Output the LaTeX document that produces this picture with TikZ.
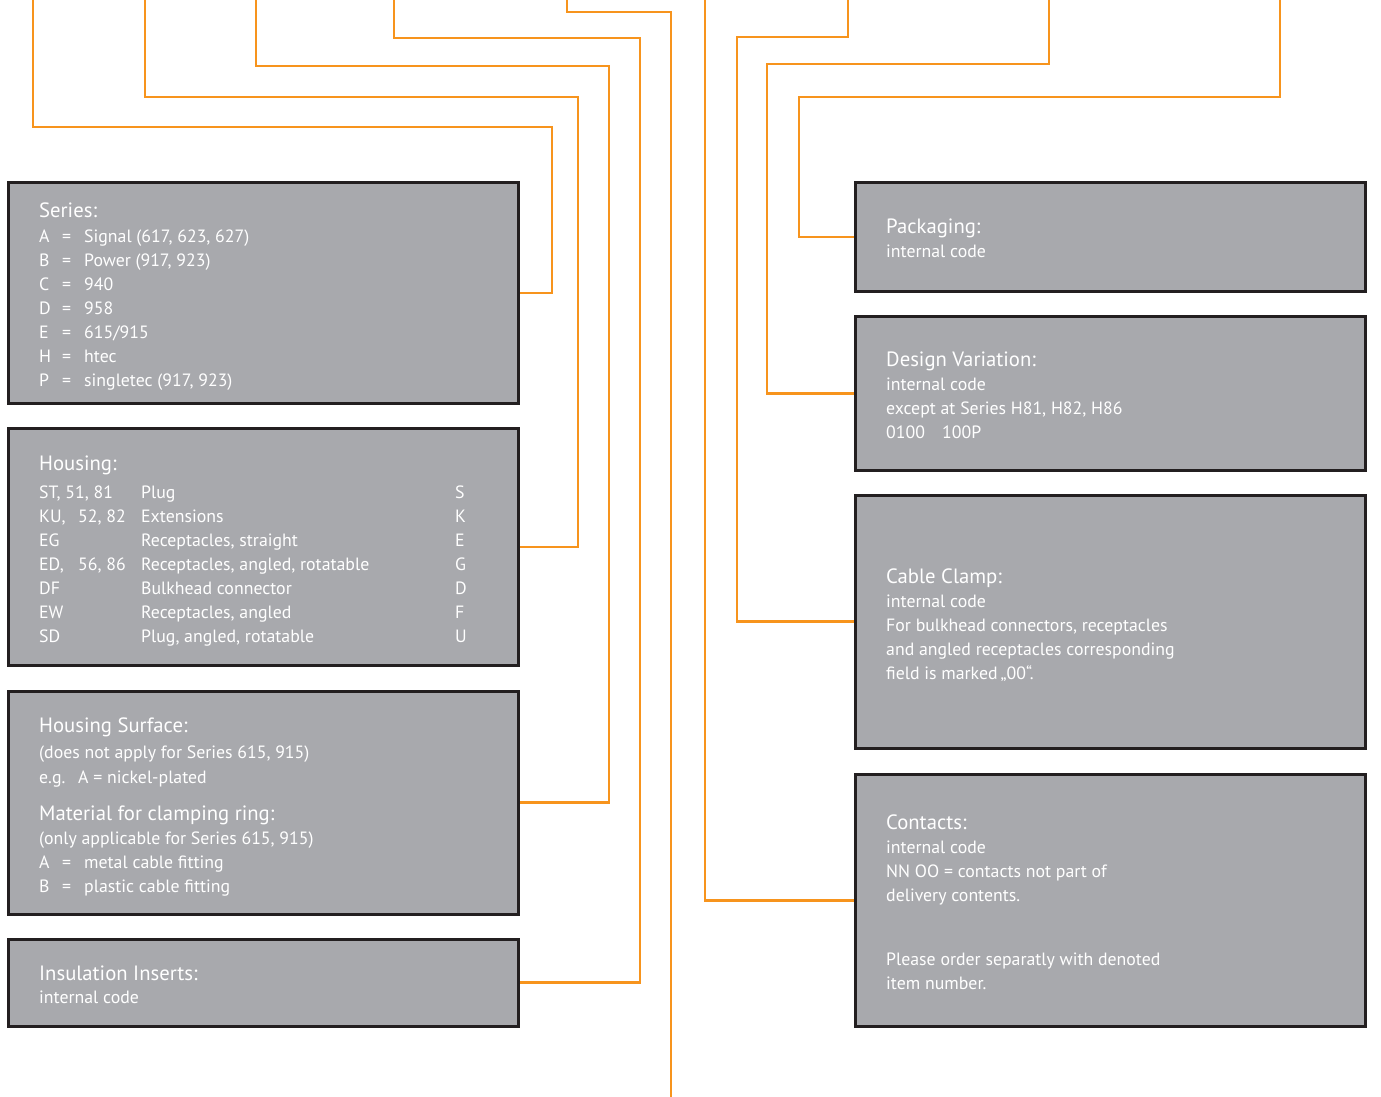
\documentclass[tikz,border=0pt]{standalone}
\usepackage{fontspec}
\setmainfont{PT Sans}
\definecolor{boxgrey}{RGB}{168,169,173}
\definecolor{boxline}{RGB}{35,31,32}
\definecolor{wireorange}{RGB}{247,148,29}
\newcommand{\eqrow}[1]{\makebox[23pt][l]{#1}\makebox[22pt][l]{=}}
\newcommand{\hsrow}[3]{\makebox[102pt][l]{#1}\makebox[314pt][l]{#2}#3}
\tikzset{
  infobox/.style={draw=boxline, fill=boxgrey, line width=3pt, minimum width=510pt, inner sep=0pt},
  wire/.style={draw=wireorange, line width=2.6pt},
  head/.style={text=white, anchor=base west, inner sep=0pt, font=\fontsize{20.7}{24}\selectfont},
  body/.style={text=white, anchor=base west, inner sep=0pt, font=\fontsize{17.8}{24}\selectfont},
}
\begin{document}
\begin{tikzpicture}[x=1pt,y=-1pt]
  \useasboundingbox (0,0) rectangle (1381,1097);

  % left column
  \node[infobox, minimum height=221pt] (series) at (263.5,293) {};
  \node[infobox, minimum height=237pt] (housing) at (263.5,547) {};
  \node[infobox, minimum height=222.5pt] (surface) at (263.5,802.75) {};
  \node[infobox, minimum height=86.5pt] (inserts) at (263.5,982.75) {};
  % right column
  \node[infobox, minimum height=109pt] (packaging) at (1110.5,237) {};
  \node[infobox, minimum height=153.5pt] (variation) at (1110.5,393.25) {};
  \node[infobox, minimum height=252.5pt] (clamp) at (1110.5,621.75) {};
  \node[infobox, minimum height=252.5pt] (contacts) at (1110.5,900.25) {};

  % free ends at the top and bottom
  \coordinate (t1) at (33,0);
  \coordinate (t2) at (145,0);
  \coordinate (t3) at (256,0);
  \coordinate (t4) at (394,0);
  \coordinate (t5) at (567,0);
  \coordinate (b5) at (671,1097);
  \coordinate (t6) at (705,0);
  \coordinate (t7) at (848,0);
  \coordinate (t8) at (1049,0);
  \coordinate (t9) at (1280,0);

  \draw[wire] (t1) |- (552,127) |- (series.east);
  \draw[wire] (t2) |- (578,97) |- (housing.east);
  \draw[wire] (t3) |- (609,66) |- (surface.east);
  \draw[wire] (t4) |- (640,38) |- (inserts.east);
  \draw[wire] (t5) |- (671,12) -- (b5);
  \draw[wire] (t6) |- (contacts.west);
  \draw[wire] (t7) |- (737,37) |- (clamp.west);
  \draw[wire] (t8) |- (767,64) |- (variation.west);
  \draw[wire] (t9) |- (799,97) |- (packaging.west);

  % Series
  \node[head] (seriesHead) at (39,217) {Series:};
  \foreach \t [count=\i] in {{\eqrow{A}Signal (617, 623, 627)},{\eqrow{B}Power (917, 923)},
      {\eqrow{C}940},{\eqrow{D}958},{\eqrow{E}615/915},{\eqrow{H}htec},{\eqrow{P}singletec (917, 923)}}
    \node[body] (series\i) at (39,218+24*\i) {\t};

  % Housing
  \node[head] (housingHead) at (39,470) {Housing:};
  \foreach \t [count=\i] in {{\hsrow{ST, 51, 81}{Plug}{S}},
      {\hsrow{\makebox[39pt][l]{KU,}52, 82}{Extensions}{K}},
      {\hsrow{EG}{Receptacles, straight}{E}},
      {\hsrow{\makebox[39pt][l]{ED,}56, 86}{Receptacles, angled, rotatable}{G}},
      {\hsrow{DF}{Bulkhead connector}{D}},
      {\hsrow{EW}{Receptacles, angled}{F}},
      {\hsrow{SD}{Plug, angled, rotatable}{U}}}
    \node[body] (housing\i) at (39,474+24*\i) {\t};

  % Housing Surface
  \node[head] (surfaceHead) at (39,732) {Housing Surface:};
  \node[body] (surface1) at (39,758) {(does not apply for Series 615, 915)};
  \node[body] (surface2) at (39,783) {\makebox[39pt][l]{e.g.}A = nickel-plated};
  \node[head] (ringHead) at (39,820) {Material for clamping ring:};
  \node[body] (ring1) at (39,844) {(only applicable for Series 615, 915)};
  \node[body] (ring2) at (39,868) {\eqrow{A}metal cable fitting};
  \node[body] (ring3) at (39,892) {\eqrow{B}plastic cable fitting};

  % Insulation Inserts
  \node[head] (insertsHead) at (39,980) {Insulation Inserts:};
  \node[body] (inserts1) at (39,1003) {internal code};

  % Packaging
  \node[head] (packagingHead) at (886,233) {Packaging:};
  \node[body] (packaging1) at (886,257) {internal code};

  % Design Variation
  \node[head] (variationHead) at (886,366) {Design Variation:};
  \foreach \t [count=\i] in {{internal code},{except at Series H81, H82, H86},
      {\makebox[56pt][l]{0100}100P}}
    \node[body] (variation\i) at (886,366+24*\i) {\t};

  % Cable Clamp
  \node[head] (clampHead) at (886,583) {Cable Clamp:};
  \foreach \t [count=\i] in {{internal code},{For bulkhead connectors, receptacles},
      {and angled receptacles corresponding},{field is marked\,„00“.}}
    \node[body] (clamp\i) at (886,583+24*\i) {\t};

  % Contacts
  \node[head] (contactsHead) at (886,829) {Contacts:};
  \node[body] (contacts1) at (886,853) {internal code};
  \node[body] (contacts2) at (886,877) {NN OO = contacts not part of};
  \node[body] (contacts3) at (886,901) {delivery contents.};
  \node[body] (contacts4) at (886,965) {Please order separatly with denoted};
  \node[body] (contacts5) at (886,989) {item number.};
\end{tikzpicture}
\end{document}
